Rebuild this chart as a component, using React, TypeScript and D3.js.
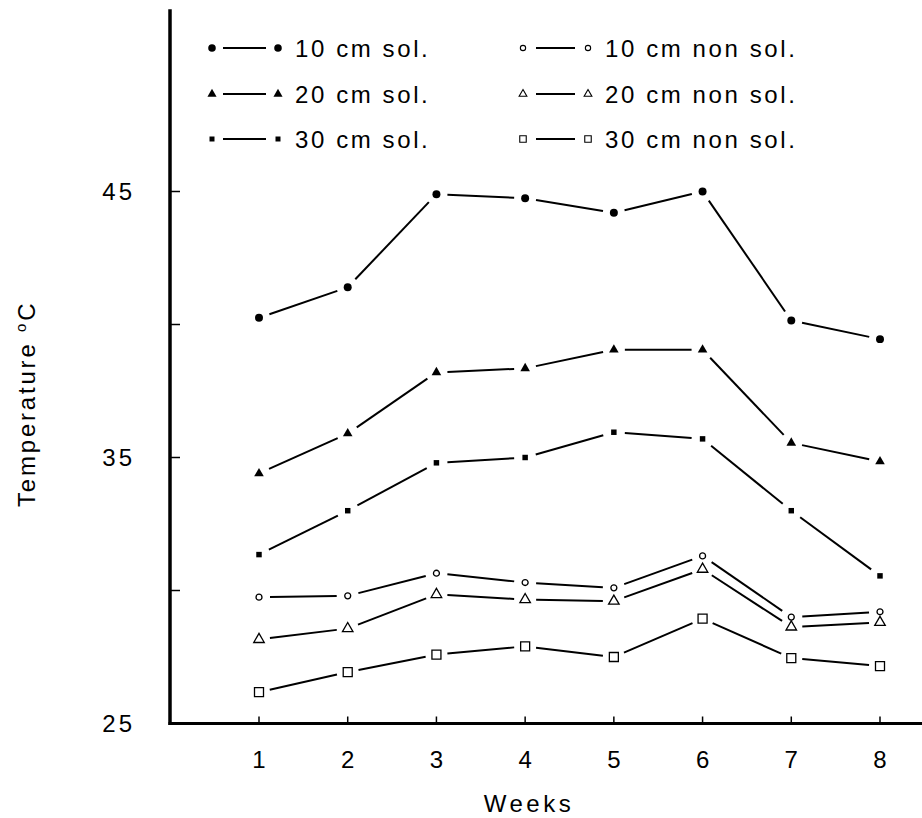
import React from 'react';
import * as d3 from 'd3';

const weeks = [1, 2, 3, 4, 5, 6, 7, 8];
const sol10 = [40.25, 41.4, 44.9, 44.75, 44.2, 45.0, 40.15, 39.45];
const sol20 = [34.4, 35.9, 38.2, 38.35, 39.05, 39.05, 35.55, 34.85];
const sol30 = [31.35, 33.0, 34.8, 35.0, 35.95, 35.7, 33.0, 30.55];
const non10 = [29.75, 29.8, 30.65, 30.3, 30.1, 31.3, 29.0, 29.2];
const non20 = [28.16, 28.57, 29.85, 29.66, 29.6, 30.8, 28.63, 28.8];
const non30 = [26.18, 26.93, 27.59, 27.9, 27.5, 28.94, 27.46, 27.16];
const yTicks = [25, 35, 45];
const yMinor = [30, 40];
const seriesLabels = [
  '10 cm sol.', '20 cm sol.', '30 cm sol.',
  '10 cm non sol.', '20 cm non sol.', '30 cm non sol.',
];

const FONT = '"Liberation Sans", Arial, sans-serif';

// marker styles per series (same order as seriesLabels); legend uses smaller open marks
const markers = [
  { type: d3.symbolCircle, size: 50, legend: 45, fill: '#000', stroke: 'none' },
  { type: d3.symbolTriangle, size: 40, legend: 36, fill: '#000', stroke: 'none' },
  { type: d3.symbolSquare, size: 30, legend: 25, fill: '#000', stroke: 'none' },
  { type: d3.symbolCircle, size: 28, legend: 22, fill: '#fff', stroke: '#000' },
  { type: d3.symbolTriangle, size: 48, legend: 26, fill: '#fff', stroke: '#000' },
  { type: d3.symbolSquare, size: 81, legend: 42, fill: '#fff', stroke: '#000' },
];

const App = () => {
  const width = 922;
  const height = 818;
  const series = [sol10, sol20, sol30, non10, non20, non30];

  const x = d3.scaleLinear().domain([1, 8]).range([259, 880]);
  const y = d3.scaleLinear().domain([25, 45]).range([723.5, 191.5]);
  const axisX = 170;
  const gap = 11; // lines stop short of the markers

  const sym = (i: number, legend = false) =>
    d3.symbol(markers[i].type, legend ? markers[i].legend : markers[i].size)() as string;

  const segments = (vals: number[]) =>
    vals.slice(1).map((v, k) => {
      const x1 = x(weeks[k]), y1 = y(vals[k]);
      const x2 = x(weeks[k + 1]), y2 = y(v);
      const len = Math.hypot(x2 - x1, y2 - y1);
      const ux = (x2 - x1) / len, uy = (y2 - y1) / len;
      return [x1 + ux * gap, y1 + uy * gap, x2 - ux * gap, y2 - uy * gap];
    });

  const legendRows = [48, 94, 139];
  const legendCols = [
    { m1: 212, l1: 223, l2: 266, m2: 278, tx: 295 },
    { m1: 523, l1: 536, l2: 575, m2: 588, tx: 605 },
  ];

  return (
    <svg width={width} height={height} style={{ position: 'absolute', left: 0, top: 0, background: '#fff' }}
      fontFamily={FONT}>
      <rect width={width} height={height} fill="#fff" />

      {/* axes */}
      <line x1={axisX} x2={axisX} y1={y(51.85)} y2={y(25) + 1.5} stroke="#000" strokeWidth={3.5} />
      <line x1={axisX - 1.5} x2={width} y1={y(25)} y2={y(25)} stroke="#000" strokeWidth={3} />
      {yTicks.concat(yMinor).filter(t => t !== 25).map(t => (
        <line key={'yt' + t} x1={axisX} x2={axisX + 10} y1={y(t)} y2={y(t)} stroke="#000" strokeWidth={1.5} />
      ))}
      {weeks.map(w => (
        <line key={'xt' + w} x1={x(w)} x2={x(w)} y1={y(25)} y2={y(25) - 7} stroke="#000" strokeWidth={1.5} />
      ))}

      {/* tick labels */}
      {yTicks.map(t => (
        <text key={'yl' + t} x={135} y={y(t) + 8.5} textAnchor="end" fontSize={24} letterSpacing={3}>{t}</text>
      ))}
      {weeks.map(w => (
        <text key={'xl' + w} x={x(w) + 1.5} y={768} textAnchor="middle" fontSize={24} letterSpacing={3}>{w}</text>
      ))}

      {/* axis titles */}
      <text x={529} y={812} textAnchor="middle" fontSize={24} letterSpacing={3.5}>Weeks</text>
      <text transform="translate(35,507) rotate(-90)" fontSize={24} letterSpacing={2.8}>
        Temperature <tspan fontSize={15} dy={-9}>o</tspan><tspan dy={9}>C</tspan>
      </text>

      {/* series */}
      {series.map((vals, i) => (
        <g key={'s' + i}>
          {segments(vals).map((s, k) => (
            <line key={k} x1={s[0]} y1={s[1]} x2={s[2]} y2={s[3]} stroke="#000" strokeWidth={2} />
          ))}
          {vals.map((v, k) => (
            <path key={'m' + k} d={sym(i)} transform={`translate(${x(weeks[k])},${y(v)})`}
              fill={markers[i].fill} stroke={markers[i].stroke} strokeWidth={1.3} />
          ))}
        </g>
      ))}

      {/* legend */}
      {seriesLabels.map((label, i) => {
        const c = legendCols[Math.floor(i / 3)];
        const ry = legendRows[i % 3];
        return (
          <g key={'lg' + i}>
            <path d={sym(i, true)} transform={`translate(${c.m1},${ry})`} fill={markers[i].fill}
              stroke={markers[i].stroke} strokeWidth={1.1} />
            <line x1={c.l1} x2={c.l2} y1={ry} y2={ry} stroke="#000" strokeWidth={2} />
            <path d={sym(i, true)} transform={`translate(${c.m2},${ry})`} fill={markers[i].fill}
              stroke={markers[i].stroke} strokeWidth={1.1} />
            <text x={c.tx} y={ry + 9} fontSize={24} letterSpacing={2.6}>{label}</text>
          </g>
        );
      })}
    </svg>
  );
};

export default App;
